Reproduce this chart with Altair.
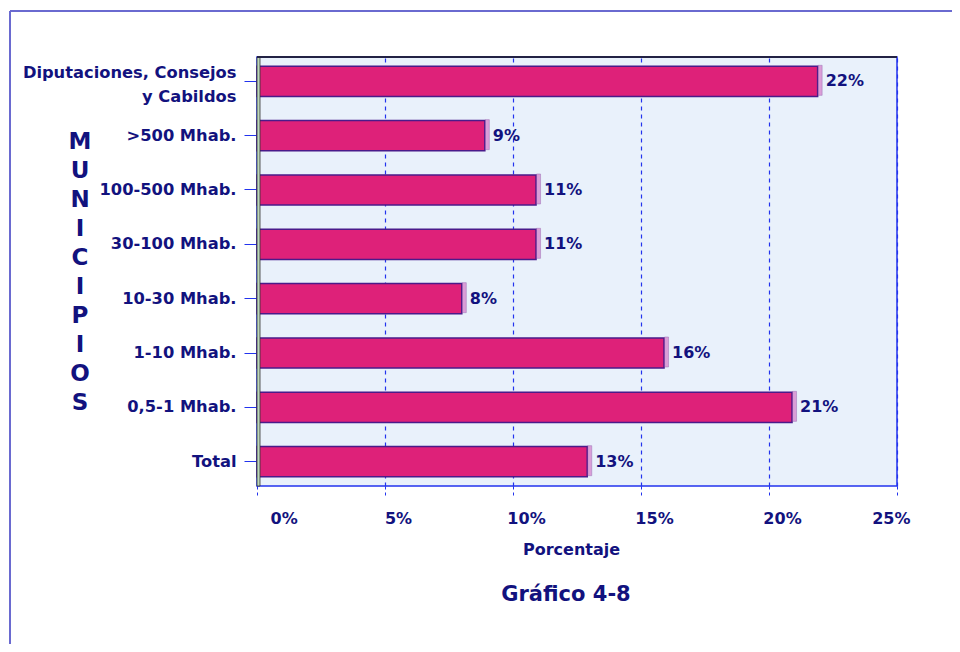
import altair as alt
import pandas as pd

categories = [
    "Diputaciones, Consejos y Cabildos",
    ">500 Mhab.",
    "100-500 Mhab.",
    "30-100 Mhab.",
    "10-30 Mhab.",
    "1-10 Mhab.",
    "0,5-1 Mhab.",
    "Total",
]
values = [21.9, 8.9, 10.9, 10.9, 8.0, 15.9, 20.9, 12.9]
x_ticks = [0, 5, 10, 15, 20, 25]
side_letters = list("MUNICIPIOS")
x_title = "Porcentaje"
chart_title = "Gráfico 4-8"

NAVY = "#12127E"
BLUE = "#2233EE"
FONT = "DejaVu Sans"

df = pd.DataFrame({"cat": categories, "val": values})

W, H = 640, 429

y_axis = alt.Axis(
    title=None,
    labelExpr="datum.label == 'Diputaciones, Consejos y Cabildos' ? ['Diputaciones, Consejos', 'y Cabildos'] : datum.label",
    labelOffset={"condition": {"test": "datum.value == 'Diputaciones, Consejos y Cabildos'", "value": -8}, "value": 0},
    tickColor=BLUE,
)
x_axis = alt.Axis(
    title=x_title,
    values=x_ticks,
    labelExpr="datum.value + '%'",
    labelOffset=13,
    titleX=314,
    gridColor=BLUE,
    tickColor=BLUE,
)
yscale = alt.Scale(paddingInner=0.445, paddingOuter=0.17)
xscale = alt.Scale(domain=[0, 25], nice=False, zero=True)

xenc = alt.X("val:Q", scale=xscale, axis=x_axis)
yenc = alt.Y("cat:N", sort=categories, scale=yscale, axis=y_axis)

base = alt.Chart(df)

bars = base.mark_bar(
    color="#DE2179", stroke="#4A1B8A", strokeWidth=1.5
).encode(x=xenc, y=yenc)

side = base.mark_tick(
    orient="vertical", color="#D57BC8", thickness=4, size=30, xOffset=2.5, yOffset=-1,
    stroke="#7A3A9A", strokeWidth=0.5,
).encode(x=xenc, y=yenc)

labels = base.transform_calculate(
    lab="format(datum.val, '.0f') + '%'"
).mark_text(
    align="left", baseline="middle", dx=8, font=FONT, fontSize=16,
    fontWeight="bold", color=NAVY,
).encode(x=xenc, y=yenc, text="lab:N")

one = alt.Chart(pd.DataFrame({"a": [0]}))

wall = one.mark_rect(fill="#BCD8BC", stroke="#333333", strokeWidth=0.8).encode(
    x=alt.value(0), x2=alt.value(3), y=alt.value(0), y2=alt.value(H)
)
top_line = one.mark_rule(color="#222244", strokeWidth=2).encode(
    x=alt.value(0), x2=alt.value(W), y=alt.value(0)
)

municipios = one.mark_text(
    text=side_letters, lineHeight=29, font=FONT, fontSize=23, fontWeight="bold",
    color=NAVY, align="center", baseline="middle",
).encode(x=alt.value(80 - 257), y=alt.value(142 - 57))

title_txt = one.mark_text(
    text=chart_title, font=FONT, fontSize=21, fontWeight="bold", color=NAVY,
    align="center", baseline="middle",
).encode(x=alt.value(566 - 257), y=alt.value(595 - 57))

frame_left = one.mark_rule(color="#6A6AD0", strokeWidth=2).encode(
    x=alt.value(10 - 257), y=alt.value(11 - 57), y2=alt.value(700)
)
frame_top = one.mark_rule(color="#6A6AD0", strokeWidth=2).encode(
    x=alt.value(10 - 257), x2=alt.value(1000), y=alt.value(11 - 57)
)

chart = alt.layer(
    bars, side, labels, wall, top_line, municipios, title_txt, frame_left, frame_top
).properties(
    width=W, height=H,
    autosize=alt.AutoSizeParams(type="none"),
    padding={"left": 249, "top": 49, "right": 55, "bottom": 158},
    background="white",
).configure_view(
    fill="#E9F1FB", stroke=BLUE, strokeWidth=1.5
).configure_axisX(
    labelFont=FONT,
    labelFontSize=16,
    labelFontWeight="bold",
    labelColor=NAVY,
    labelPadding=12,
    tickColor=BLUE,
    tickSize=12,
    tickDash=[3, 3],
    domain=False,
    grid=True,
    gridColor=BLUE,
    gridDash=[4, 4],
    gridWidth=1.2,
    gridOpacity=1,
    titleFont=FONT,
    titleFontSize=16,
    titleFontWeight="bold",
    titleColor=NAVY,
    titlePadding=15,
).configure_axisY(
    labelFont=FONT,
    labelFontSize=16.3,
    labelFontWeight="bold",
    labelColor=NAVY,
    labelPadding=8,
    labelLineHeight=24,
    labelLimit=300,
    tickColor=BLUE,
    tickSize=13,
    domain=False,
    grid=False,
)

chart.save("out.html", embed_options={"renderer": "svg", "actions": False})
